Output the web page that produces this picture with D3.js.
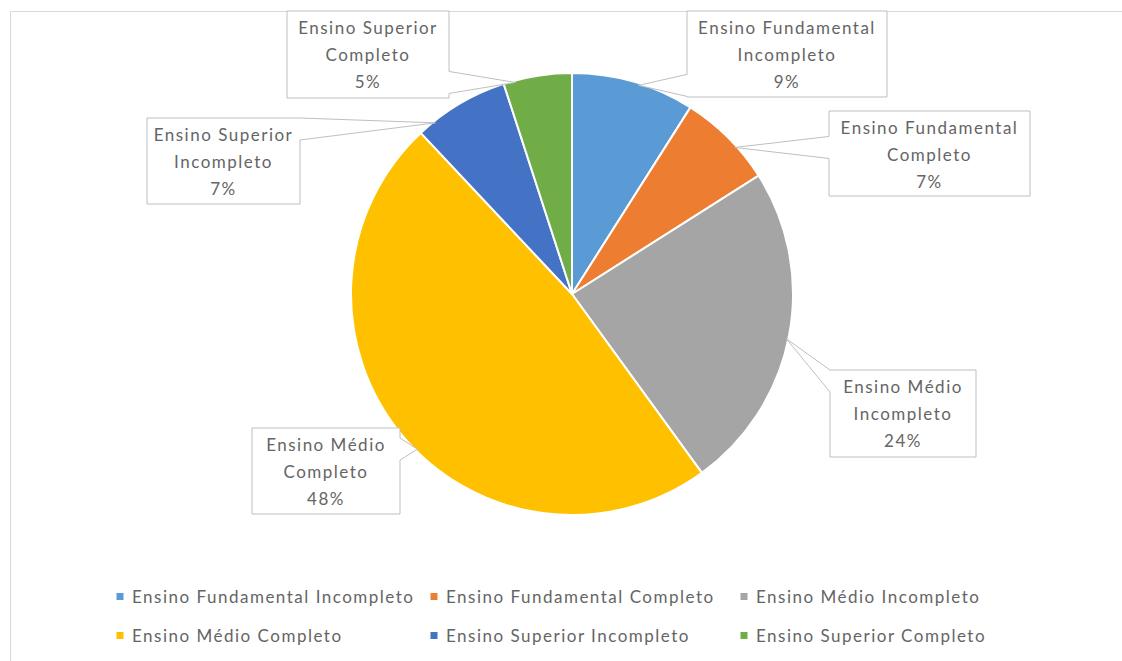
<!DOCTYPE html>
<html>
<head>
<meta charset="utf-8">
<script src="https://cdn.jsdelivr.net/npm/d3@7"></script>
<style>
  html, body { margin: 0; padding: 0; background: #fff; }
  svg { display: block; }
  text { font-family: Lato, "Open Sans", sans-serif; fill: #656565; letter-spacing: 1.5px; }
</style>
</head>
<body>
<svg id="chart" width="1122" height="661"></svg>
<script>
// Education level distribution (percent)
const categories = [
  "Ensino Fundamental Incompleto",
  "Ensino Fundamental Completo",
  "Ensino Médio Incompleto",
  "Ensino Médio Completo",
  "Ensino Superior Incompleto",
  "Ensino Superior Completo"
];
const values = [9, 7, 24, 48, 7, 5];
const labelLines = [
  ["Ensino Fundamental", "Incompleto"],
  ["Ensino Fundamental", "Completo"],
  ["Ensino Médio", "Incompleto"],
  ["Ensino Médio", "Completo"],
  ["Ensino Superior", "Incompleto"],
  ["Ensino Superior", "Completo"]
];
const colors = ["#5B9BD5", "#ED7D31", "#A5A5A5", "#FFC000", "#4472C4", "#70AD47"];

// Callout box placement for each slice label: [left, top, width, height]
const calloutBoxes = [
  [687, 11, 200, 86],
  [829, 111, 201, 85],
  [830, 370, 146, 87],
  [252, 428, 148, 86],
  [147, 118, 153, 86],
  [287, 11, 162, 87]
];
// Angular nudge (degrees) of each callout pointer from the slice's mid-angle
const pointerNudge = [1.5, 3, 1, -5.5, -8, -6];

const svg = d3.select("#chart");
const W = 1122, H = 661;
const cx = 572, cy = 294, R = 221;

// chart area frame
svg.append("rect")
  .attr("x", 10.5).attr("y", 11.5)
  .attr("width", W + 20).attr("height", H + 20)
  .attr("fill", "#fff").attr("stroke", "#d9d9d9").attr("stroke-width", 1);

const pie = d3.pie().sort(null).value(d => d);
const arcs = pie(values);
const arc = d3.arc().innerRadius(0).outerRadius(R);

const g = svg.append("g").attr("transform", `translate(${cx},${cy})`);
g.selectAll("path.slice")
  .data(arcs)
  .join("path")
  .attr("class", "slice")
  .attr("d", arc)
  .attr("fill", (d, i) => colors[i])
  .attr("stroke", "#fff")
  .attr("stroke-width", 2)
  .attr("stroke-linejoin", "round");

// callout outline: rectangle with a wedge pointing to the slice
function calloutPath(box, tip) {
  const [x, y, w, h] = box;
  const x2 = x + w, y2 = y + h;
  const half = 11;
  const clamp = (v, a, b) => Math.max(a, Math.min(b, v));
  let side;
  if (tip[0] < x) side = "left";
  else if (tip[0] > x2) side = "right";
  else if (tip[1] < y) side = "top";
  else side = "bottom";
  const p = d3.path();
  if (side === "left" || side === "right") {
    const c = clamp(tip[1], y + half, y2 - half);
    p.moveTo(x, y); p.lineTo(x2, y);
    if (side === "right") { p.lineTo(x2, c - half); p.lineTo(tip[0], tip[1]); p.lineTo(x2, c + half); }
    p.lineTo(x2, y2); p.lineTo(x, y2);
    if (side === "left") { p.lineTo(x, c + half); p.lineTo(tip[0], tip[1]); p.lineTo(x, c - half); }
    p.closePath();
  } else {
    const c = clamp(tip[0], x + half, x2 - half);
    p.moveTo(x, y);
    if (side === "top") { p.lineTo(c - half, y); p.lineTo(tip[0], tip[1]); p.lineTo(c + half, y); }
    p.lineTo(x2, y); p.lineTo(x2, y2);
    if (side === "bottom") { p.lineTo(c + half, y2); p.lineTo(tip[0], tip[1]); p.lineTo(c - half, y2); }
    p.lineTo(x, y2); p.closePath();
  }
  return p.toString();
}

const fmt = d3.format(".0%");
const total = d3.sum(values);
const labels = svg.append("g");
arcs.forEach((a, i) => {
  const mid = (a.startAngle + a.endAngle) / 2 + pointerNudge[i] * Math.PI / 180;
  const tip = [cx + (R - 2) * Math.sin(mid), cy - (R - 2) * Math.cos(mid)];
  const box = calloutBoxes[i];
  labels.append("path")
    .attr("d", calloutPath(box, tip))
    .attr("fill", "#fff")
    .attr("stroke", "#bfbfbf")
    .attr("stroke-width", 1);
  const lines = labelLines[i].concat([fmt(values[i] / total)]);
  const tx = box[0] + box[2] / 2;
  lines.forEach((t, k) => {
    labels.append("text")
      .attr("x", tx)
      .attr("y", box[1] + 23 + k * 27)
      .attr("text-anchor", "middle")
      .attr("font-size", 17)
      .text(t);
  });
});

// legend
const legendCols = [120, 434, 744];
const legendRows = [597, 636];
const legend = svg.append("g");
categories.forEach((c, i) => {
  const col = i % 3, row = Math.floor(i / 3);
  const lx = legendCols[col], ly = legendRows[row];
  legend.append("rect")
    .attr("x", lx - 3.5).attr("y", ly - 4)
    .attr("width", 7).attr("height", 7)
    .attr("fill", colors[i]);
  legend.append("text")
    .attr("x", lx + 12).attr("y", ly + 6)
    .attr("font-size", 17)
    .text(c);
});
</script>
</body>
</html>
